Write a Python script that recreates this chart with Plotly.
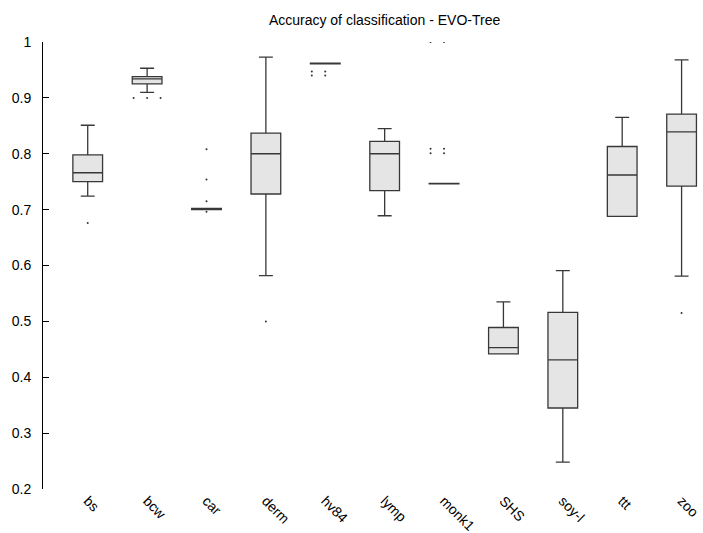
import plotly.graph_objects as go

categories = ["bs", "bcw", "car", "derm", "hv84", "lymp", "monk1", "SHS", "soy-l", "ttt", "zoo"]
lower_whisker = [0.724, 0.910, 0.700, 0.582, 0.961, 0.689, 0.746, 0.442, 0.248, 0.688, 0.581]
q1_vals       = [0.750, 0.925, 0.700, 0.728, 0.961, 0.734, 0.746, 0.442, 0.345, 0.688, 0.742]
median_vals   = [0.766, 0.934, 0.701, 0.800, 0.962, 0.800, 0.747, 0.453, 0.431, 0.762, 0.839]
q3_vals       = [0.798, 0.938, 0.702, 0.837, 0.962, 0.822, 0.747, 0.489, 0.516, 0.813, 0.871]
upper_whisker = [0.851, 0.953, 0.702, 0.973, 0.962, 0.845, 0.747, 0.535, 0.591, 0.865, 0.968]
outliers = [
    [0.676],
    [0.900, 0.900, 0.900],
    [0.808, 0.754, 0.715, 0.696],
    [0.500],
    [0.947, 0.947, 0.940, 0.940],
    [],
    [1.000, 1.000, 0.809, 0.809, 0.801, 0.801],
    [],
    [],
    [],
    [0.515],
]
y_tickvals = [0.2, 0.3, 0.4, 0.5, 0.6, 0.7, 0.8, 0.9, 1.0]
y_ticktext = ["0.2", "0.3", "0.4", "0.5", "0.6", "0.7", "0.8", "0.9", "1"]
title_text = "Accuracy of classification - EVO-Tree"

positions = list(range(len(categories)))

fig = go.Figure()
fig.add_trace(go.Box(
    x=positions,
    q1=q1_vals, median=median_vals, q3=q3_vals,
    lowerfence=lower_whisker, upperfence=upper_whisker,
    boxpoints=False,
    width=0.5,
    whiskerwidth=0.47,
    fillcolor="#e5e5e5",
    line=dict(color="#383838", width=1.3),
    showlegend=False,
    hoverinfo="skip",
))

# outliers: identical values are spread sideways (as gnuplot does)
spread = [0, -1, 1, -2, 2]
ox, oy = [], []
for i, vals in enumerate(outliers):
    seen = {}
    for v in vals:
        k = seen.get(v, 0)
        seen[v] = k + 1
        ox.append(i + spread[k] * 0.227)
        oy.append(v)
fig.add_trace(go.Scatter(
    x=ox, y=oy, mode="markers",
    marker=dict(size=2, color="#333333"),
    showlegend=False, hoverinfo="skip",
))

fig.update_layout(
    width=703, height=533,
    margin=dict(l=43, r=3, t=42, b=44),
    plot_bgcolor="white", paper_bgcolor="white",
    font=dict(family="Liberation Sans, Arial, sans-serif", size=14, color="black"),
    title=dict(text=title_text, x=0.547, xref="container", y=0.962, yref="container",
               xanchor="center", yanchor="middle", font=dict(size=14)),
)
fig.update_xaxes(
    range=[-0.753, 10.31], automargin=False,
    tickmode="array", tickvals=positions, ticktext=categories,
    tickangle=45, showgrid=False, zeroline=False, showline=False, ticks="",
)
fig.update_yaxes(
    range=[0.2, 1.0], automargin=False,
    tickmode="array", tickvals=y_tickvals, ticktext=y_ticktext,
    showgrid=False, zeroline=False, showline=True, linecolor="black", linewidth=1,
    ticks="inside", ticklen=6, tickcolor="black", ticklabelstandoff=8,
)
fig.write_html(
    "out.html",
    config={"displayModeBar": False},
    post_script="document.body.style.margin='0';document.body.style.overflow='hidden';",
)
